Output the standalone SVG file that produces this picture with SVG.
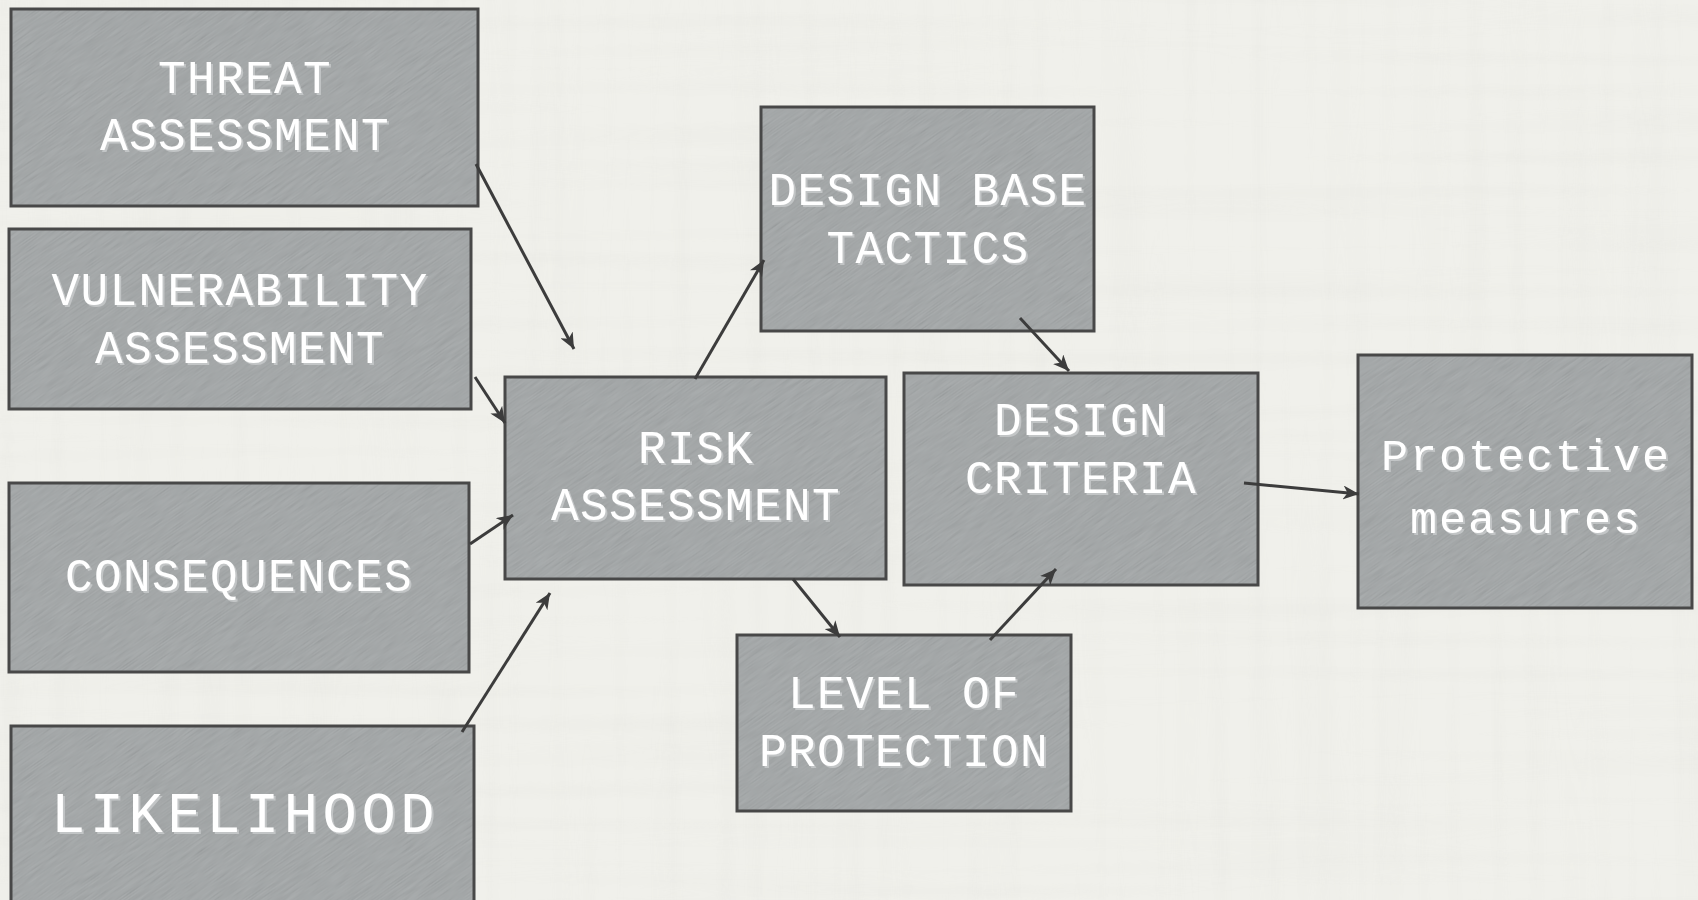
<svg xmlns="http://www.w3.org/2000/svg" width="1698" height="900" viewBox="0 0 1698 900">
  <defs>
    <style>
      .box { fill: url(#paper); stroke: #484848; stroke-width: 3; }
      .lbl { font-family: "Liberation Mono", "DejaVu Sans Mono", monospace; font-size: 46px; letter-spacing: 1.4px; fill: #ffffff; text-anchor: middle; filter: url(#emboss); }
      .big { font-size: 57px; letter-spacing: 4.6px; }
      .low { font-size: 45px; letter-spacing: 2px; }
      .link { stroke: #3c3c3c; stroke-width: 3; fill: none; marker-end: url(#head); }
    </style>

    <!-- white lettering with a light offset shadow -->
    <filter id="emboss" x="-5%" y="-20%" width="110%" height="140%">
      <feDropShadow dx="2" dy="2" stdDeviation="0" flood-color="#c2c5c6" flood-opacity="1"/>
    </filter>

    <!-- fine diagonal grain used as the box surface -->
    <filter id="grain" filterUnits="userSpaceOnUse" x="0" y="0" width="2600" height="2600">
      <feTurbulence type="fractalNoise" baseFrequency="0.04 0.8" numOctaves="2" seed="7"/>
      <feColorMatrix type="matrix" values="1 0 0 0 0  1 0 0 0 0  1 0 0 0 0  0 0 0 0 0.13"/>
    </filter>
    <pattern id="paper" patternUnits="userSpaceOnUse" x="0" y="0" width="2600" height="2600" patternTransform="rotate(-35 849 450) translate(-500 -800)">
      <rect width="2600" height="2600" fill="#a0a4a5"/>
      <rect width="2600" height="2600" fill="#000" filter="url(#grain)"/>
    </pattern>

    <!-- faint linen weave on the backdrop -->
    <filter id="weaveV" filterUnits="userSpaceOnUse" x="0" y="0" width="1698" height="900">
      <feTurbulence type="fractalNoise" baseFrequency="0.06 0.002" numOctaves="1" seed="3"/>
      <feColorMatrix type="matrix" values="0 0 0 0 0.55  0 0 0 0 0.55  0 0 0 0 0.52  1.2 0 0 0 -0.55"/>
    </filter>
    <filter id="weaveH" filterUnits="userSpaceOnUse" x="0" y="0" width="1698" height="900">
      <feTurbulence type="fractalNoise" baseFrequency="0.002 0.06" numOctaves="1" seed="11"/>
      <feColorMatrix type="matrix" values="0 0 0 0 0.55  0 0 0 0 0.55  0 0 0 0 0.52  1.2 0 0 0 -0.55"/>
    </filter>

    <marker id="head" markerUnits="userSpaceOnUse" markerWidth="18" markerHeight="14" refX="16" refY="7" orient="auto">
      <path d="M0,0 L16,7 L0,14 L4.5,7 Z" fill="#3c3c3c"/>
    </marker>
  </defs>

  <!-- backdrop -->
  <rect width="1698" height="900" fill="#f0f0eb"/>
  <rect width="1698" height="900" filter="url(#weaveV)" opacity="0.12"/>
  <rect width="1698" height="900" filter="url(#weaveH)" opacity="0.12"/>

  <g id="threat-assessment">
    <rect class="box" x="11" y="9" width="467" height="197"/>
    <text class="lbl" x="245" y="93">THREAT</text>
    <text class="lbl" x="245" y="150">ASSESSMENT</text>
  </g>

  <g id="vulnerability-assessment">
    <rect class="box" x="9" y="229" width="462" height="180"/>
    <text class="lbl" x="240" y="305">VULNERABILITY</text>
    <text class="lbl" x="240" y="363">ASSESSMENT</text>
  </g>

  <g id="consequences">
    <rect class="box" x="9" y="483" width="460" height="189"/>
    <text class="lbl" x="239" y="591">CONSEQUENCES</text>
  </g>

  <g id="likelihood">
    <rect class="box" x="11" y="726" width="463" height="200"/>
    <text class="lbl big" x="245" y="832">LIKELIHOOD</text>
  </g>

  <g id="risk-assessment">
    <rect class="box" x="505" y="377" width="381" height="202"/>
    <text class="lbl" x="696" y="463">RISK</text>
    <text class="lbl" x="696" y="520">ASSESSMENT</text>
  </g>

  <g id="design-base-tactics">
    <rect class="box" x="761" y="107" width="333" height="224"/>
    <text class="lbl" x="928" y="205">DESIGN BASE</text>
    <text class="lbl" x="928" y="263">TACTICS</text>
  </g>

  <g id="design-criteria">
    <rect class="box" x="904" y="373" width="354" height="212"/>
    <text class="lbl" x="1081" y="435">DESIGN</text>
    <text class="lbl" x="1081" y="493">CRITERIA</text>
  </g>

  <g id="level-of-protection">
    <rect class="box" x="737" y="635" width="334" height="176"/>
    <text class="lbl" x="904" y="708">LEVEL OF</text>
    <text class="lbl" x="904" y="766">PROTECTION</text>
  </g>

  <g id="protective-measures">
    <rect class="box" x="1358" y="355" width="334" height="253"/>
    <text class="lbl low" x="1526" y="470">Protective</text>
    <text class="lbl low" x="1526" y="533">measures</text>
  </g>

  <g id="connectors">
    <line class="link" x1="476" y1="164" x2="574" y2="349"/>
    <line class="link" x1="475" y1="377" x2="505" y2="423"/>
    <line class="link" x1="470" y1="544" x2="513" y2="515"/>
    <line class="link" x1="462" y1="732" x2="550" y2="593"/>
    <line class="link" x1="695" y1="379" x2="764" y2="260"/>
    <line class="link" x1="1020" y1="318" x2="1069" y2="371"/>
    <line class="link" x1="793" y1="579" x2="840" y2="637"/>
    <line class="link" x1="990" y1="640" x2="1056" y2="569"/>
    <line class="link" x1="1244" y1="483" x2="1359" y2="494"/>
  </g>
</svg>
